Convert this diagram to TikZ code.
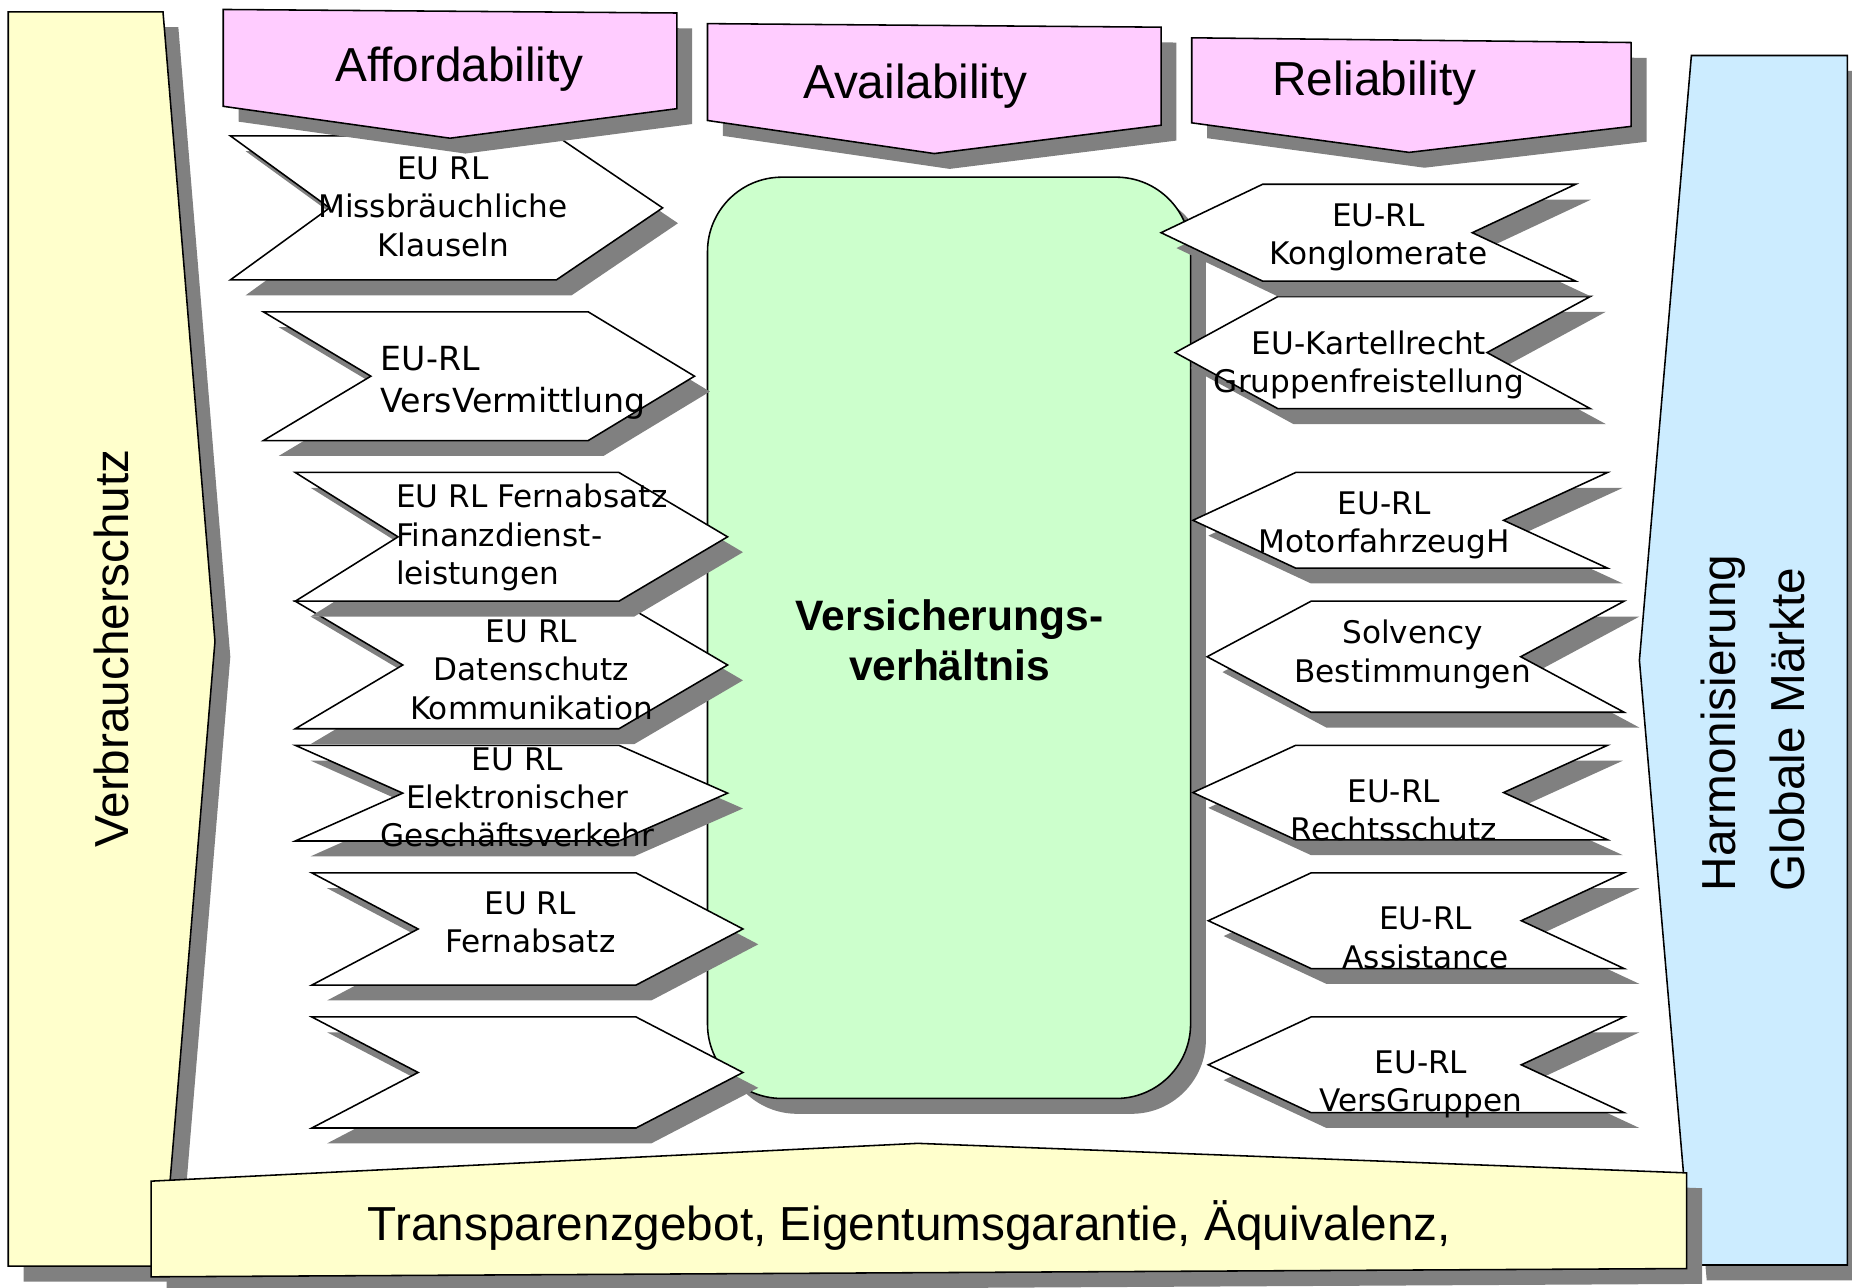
\documentclass[tikz,border=0pt]{standalone}
\usepackage{fontspec}
\setmainfont{Liberation Sans}
\newfontfamily\labfont{DejaVu Sans}
\usetikzlibrary{shadows}

\definecolor{shgray}{HTML}{808080}
\definecolor{paleyellow}{HTML}{FFFFCC}
\definecolor{palepink}{HTML}{FFCCFF}
\definecolor{palegreen}{HTML}{CCFFCC}
\definecolor{paleblue}{HTML}{CCECFF}

\newcommand\boxfont{\labfont\fontsize{15}{18.4}\selectfont}
\newcommand\bigboxfont{\labfont\fontsize{16}{20.5}\selectfont}
\newcommand\titlefont{\fontsize{23}{27}\selectfont}
\newcommand\sidefont{\fontsize{23}{33}\selectfont}
\newcommand\corefont{\bfseries\fontsize{20.5}{24.4}\selectfont}

\tikzset{
  withshadow/.style={draw=black, line width=0.75pt, line join=miter,
    drop shadow={shadow xshift=0.26cm, shadow yshift=-0.26cm, fill=shgray, opacity=1}},
  sidepanel/.style={withshadow, fill=paleyellow},
  bluepanel/.style={withshadow, fill=paleblue},
  header/.style={withshadow, fill=palepink},
  corebox/.style={withshadow, fill=palegreen, rounded corners=1.26cm},
  chevron/.style={withshadow, fill=white},
  lbl/.style={font=\boxfont, align=center, inner sep=0pt},
  titletext/.style={font=\titlefont, anchor=base, inner sep=0pt},
  sidetext/.style={font=\sidefont, rotate=90, inner sep=0pt},
}

% chevron pointing right: xl, xr, xtip, xnotch, ytop, ybot
\newcommand\leftchevron[6]{%
  \path[chevron] (#1,#5) -- (#2,#5) -- (#3,{(#5+#6)/2}) -- (#2,#6) -- (#1,#6) -- (#4,{(#5+#6)/2}) -- cycle;}
% chevron pointing left: xtip, xl, xr, xnotch, ytop, ybot
\newcommand\rightchevron[6]{%
  \path[chevron] (#1,{(#5+#6)/2}) -- (#2,#5) -- (#3,#5) -- (#4,{(#5+#6)/2}) -- (#3,#6) -- (#2,#6) -- cycle;}

\begin{document}
\begin{tikzpicture}[x=0.02cm, y=-0.02cm]
\useasboundingbox (0,0) rectangle (1568,1090);
\clip (0,0) rectangle (1568,1090);

% side panels
\path[sidepanel] (7,10) -- (138,10) -- (182,543) -- (138,1072) -- (7,1072) -- cycle;
\path[bluepanel] (1432,47) -- (1564,47) -- (1564,1071) -- (1432,1071) -- (1388,559) -- cycle;

% central contract box
\path[corebox] (599,150) rectangle (1008,930);

% directives on the consumer side
\leftchevron{264}{538.5}{629}{354}{861}{955}
\leftchevron{264}{538.5}{629}{354}{739}{834}
\leftchevron{250}{524}{616}{341}{631}{712}
\leftchevron{250}{524}{616}{341}{509}{617}
\leftchevron{250}{524}{616}{337}{400}{509}
\leftchevron{223}{498}{588}{314}{264}{373}
\leftchevron{195}{471}{561}{279}{115}{237}

% directives on the market side
\rightchevron{1023}{1110}{1375}{1288}{861}{942}
\rightchevron{1023}{1110}{1375}{1288}{739}{820}
\rightchevron{1010}{1097}{1361}{1273}{631}{711}
\rightchevron{1022}{1110}{1375}{1287.5}{509}{603}
\rightchevron{1010}{1097}{1361}{1273}{400}{481}
\rightchevron{995}{1082}{1346.5}{1259}{251}{346}
\rightchevron{983}{1069}{1334}{1246.5}{156}{238}

% headers
\path[header] (189,8) -- (573,11) -- (573,92) -- (381,117) -- (189,90) -- cycle;
\path[header] (599,20) -- (983,23) -- (983,106) -- (791,130) -- (599,102) -- cycle;
\path[header] (1009,32) -- (1381,36) -- (1381,107) -- (1193,129) -- (1009,104) -- cycle;

% base bar
\path[sidepanel] (128,1000) -- (777,968) -- (1428,993) -- (1428,1074) -- (128,1081) -- cycle;

% texts
\node[titletext] (aff) at (389,69) {Affordability};
\node[titletext] (avail) at (775,83.5) {Availability};
\node[titletext] (rel) at (1163.5,80.5) {Reliability};

\node[font=\corefont, align=center, inner sep=0pt] (core) at (804,542) {Versicherungs-\\verhältnis};

\node[lbl] (c1) at (375,175) {EU RL\\Missbräuchliche\\Klauseln};
\node[lbl, font=\bigboxfont, align=left, anchor=west] (c2) at (322,324) {EU-RL\\VersVermittlung};
\node[lbl, align=left, anchor=west] (c3) at (335,455) {EU RL Fernabsatz\\Finanzdienst-\\leistungen};
\node[lbl] (c4) at (450,567) {EU RL\\Datenschutz\\Kommunikation};
\node[lbl] (c5) at (438,675) {EU RL\\Elektronischer\\Geschäftsverkehr};
\node[lbl] (c6) at (449,781) {EU RL\\Fernabsatz};

\node[lbl] (r1) at (1167,201) {EU-RL\\Konglomerate};
\node[lbl] (r2) at (1159,309) {EU-Kartellrecht\\Gruppenfreistellung};
\node[lbl] (r3) at (1172,445) {EU-RL\\MotorfahrzeugH};
\node[lbl] (r4) at (1196,554) {Solvency\\Bestimmungen};
\node[lbl] (r5) at (1180,686) {EU-RL\\Rechtsschutz};
\node[lbl] (r6) at (1207,794) {EU-RL\\Assistance};
\node[lbl] (r7) at (1203,918) {EU-RL\\VersGruppen};

\node[sidetext, anchor=base west] (verb) at (109,718) {Verbraucherschutz};
\node[sidetext, anchor=west, align=left] (harm) at (1484,755) {Harmonisierung\\Globale Märkte};

\node[font=\titlefont, anchor=base, inner sep=0pt] (basis) at (770,1050) {Transparenzgebot, Eigentumsgarantie, Äquivalenz,};
\end{tikzpicture}
\end{document}
